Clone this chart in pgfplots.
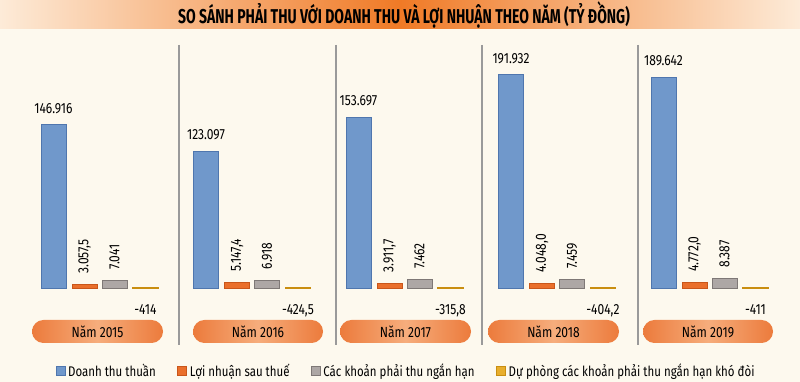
\documentclass[border=0pt]{standalone}
\usepackage{pgfplots}
\pgfplotsset{compat=1.18}
\usepackage{fontspec}
\setmainfont{Fira Sans}[FakeStretch=0.82]
\newfontfamily\titlefont{Fira Sans}[FakeStretch=0.70]
\definecolor{bg}{HTML}{FDF9EE}
\definecolor{cblue}{HTML}{7098CB}
\definecolor{cblueD}{HTML}{4F76AE}
\definecolor{corange}{HTML}{EA6F2B}
\definecolor{corangeD}{HTML}{C9561A}
\definecolor{cgray}{HTML}{ADA7A5}
\definecolor{cgrayD}{HTML}{7E7876}
\definecolor{cyellow}{HTML}{E8AE2C}
\definecolor{cyellowD}{HTML}{C98E10}
\definecolor{pill}{HTML}{EC7B3C}
\definecolor{pillL}{HTML}{F6AD7C}
\definecolor{banO}{HTML}{F07A26}
\definecolor{banP}{HTML}{FDEBD8}
\definecolor{sep}{HTML}{9A9A9A}
\newcommand{\valfont}{\fontsize{11}{13}\selectfont}
\newcommand{\pillfont}{\fontsize{11}{13}\selectfont}
\begin{document}
\begin{tikzpicture}
\fill[bg] (0,0) rectangle (600pt,286.5pt);
\begin{axis}[
  at={(0,0)}, anchor=south west,
  width=600pt, height=286.5pt, scale only axis,
  xmin=0, xmax=800, ymin=-84600, ymax=259200,
  axis lines=none, ticks=none, clip=false,
  ybar, bar width=18.75pt, bar shift=0pt,
  point meta=explicit symbolic,
  legend columns=-1,
  legend style={at={(0.508,0.029)}, anchor=center, draw=none, fill=none,
    font=\fontsize{10.5}{12}\selectfont,
    /tikz/every even column/.append style={column sep=14pt}},
  legend image code/.code={\draw[#1] (0pt,-3.4pt) rectangle (6.8pt,3.4pt);},
]
% title banner
\shade[left color=banP, right color=banP, middle color=banO] (axis cs:0,259200) rectangle (axis cs:800,233100);
\node[font=\titlefont\bfseries\fontsize{15}{18}\selectfont, text=black] at (axis cs:404,246000) {SO SÁNH PHẢI THU VỚI DOANH THU VÀ LỢI NHUẬN THEO NĂM (TỶ ĐỒNG)};
% separators
\draw[sep, line width=1.1pt] (axis cs:179,218700) -- (axis cs:179,-51300);
\draw[sep, line width=1.1pt] (axis cs:336,218700) -- (axis cs:336,-51300);
\draw[sep, line width=1.1pt] (axis cs:482,218700) -- (axis cs:482,-51300);
\draw[sep, line width=1.1pt] (axis cs:638,218700) -- (axis cs:638,-51300);
% pills
\shade[rounded corners=8.6pt, left color=pill, right color=pill, middle color=pillL] (axis cs:32,-28800) rectangle (axis cs:163,-49500);
\node[font=\pillfont] at (axis cs:97.5,-39150) {Năm 2015};
\shade[rounded corners=8.6pt, left color=pill, right color=pill, middle color=pillL] (axis cs:193,-28800) rectangle (axis cs:323,-49500);
\node[font=\pillfont] at (axis cs:258,-39150) {Năm 2016};
\shade[rounded corners=8.6pt, left color=pill, right color=pill, middle color=pillL] (axis cs:340,-28800) rectangle (axis cs:471,-49500);
\node[font=\pillfont] at (axis cs:405.5,-39150) {Năm 2017};
\shade[rounded corners=8.6pt, left color=pill, right color=pill, middle color=pillL] (axis cs:488,-28800) rectangle (axis cs:619,-49500);
\node[font=\pillfont] at (axis cs:553.5,-39150) {Năm 2018};
\shade[rounded corners=8.6pt, left color=pill, right color=pill, middle color=pillL] (axis cs:643,-28800) rectangle (axis cs:773,-49500);
\node[font=\pillfont] at (axis cs:708,-39150) {Năm 2019};
\addplot[fill=cblue, draw=cblueD, line width=0.6pt,
  nodes near coords, nodes near coords style={font=\valfont, inner sep=0pt, anchor=south, yshift=8pt}]
  table[x=x, y=y, meta=lab] {
x y lab
53.5 146916 146.916
206 123097 123.097
358.5 153697 153.697
511 191932 191.932
663.5 189642 189.642
};
\addlegendentry{Doanh thu thuần}
\addplot[fill=corange, draw=corangeD, line width=0.6pt,
  nodes near coords, nodes near coords style={font=\valfont, inner sep=0pt, anchor=west, rotate=90, xshift=8pt}]
  table[x=x, y=y, meta=lab] {
x y lab
84.5 3057.5 3.057,5
237 5147.4 5.147,4
389.5 3911.7 3.911,7
542 4048.0 4.048,0
694.5 4772.0 4.772,0
};
\addlegendentry{Lợi nhuận sau thuế}
\addplot[fill=cgray, draw=cgrayD, line width=0.6pt,
  nodes near coords, nodes near coords style={font=\valfont, inner sep=0pt, anchor=west, rotate=90, xshift=8pt}]
  table[x=x, y=y, meta=lab] {
x y lab
114.5 7041 7.041
267 6918 6.918
419.5 7462 7.462
572 7459 7.459
724.5 8387 8.387
};
\addlegendentry{Các khoản phải thu ngắn hạn}
\addplot[fill=cyellow, draw=cyellowD, line width=0.8pt,
  nodes near coords, nodes near coords style={font=\valfont, inner sep=0pt, anchor=north, yshift=-12pt}]
  table[x=x, y=y, meta=lab] {
x y lab
145.5 -414 -414
298 -424.5 -424,5
450.5 -315.8 -315,8
603 -404.2 -404,2
755.5 -411 -411
};
\addlegendentry{Dự phòng các khoản phải thu ngắn hạn khó đòi}
\end{axis}
\pgfresetboundingbox
\path (0,0) rectangle (600pt,286.5pt);
\end{tikzpicture}
\end{document}
